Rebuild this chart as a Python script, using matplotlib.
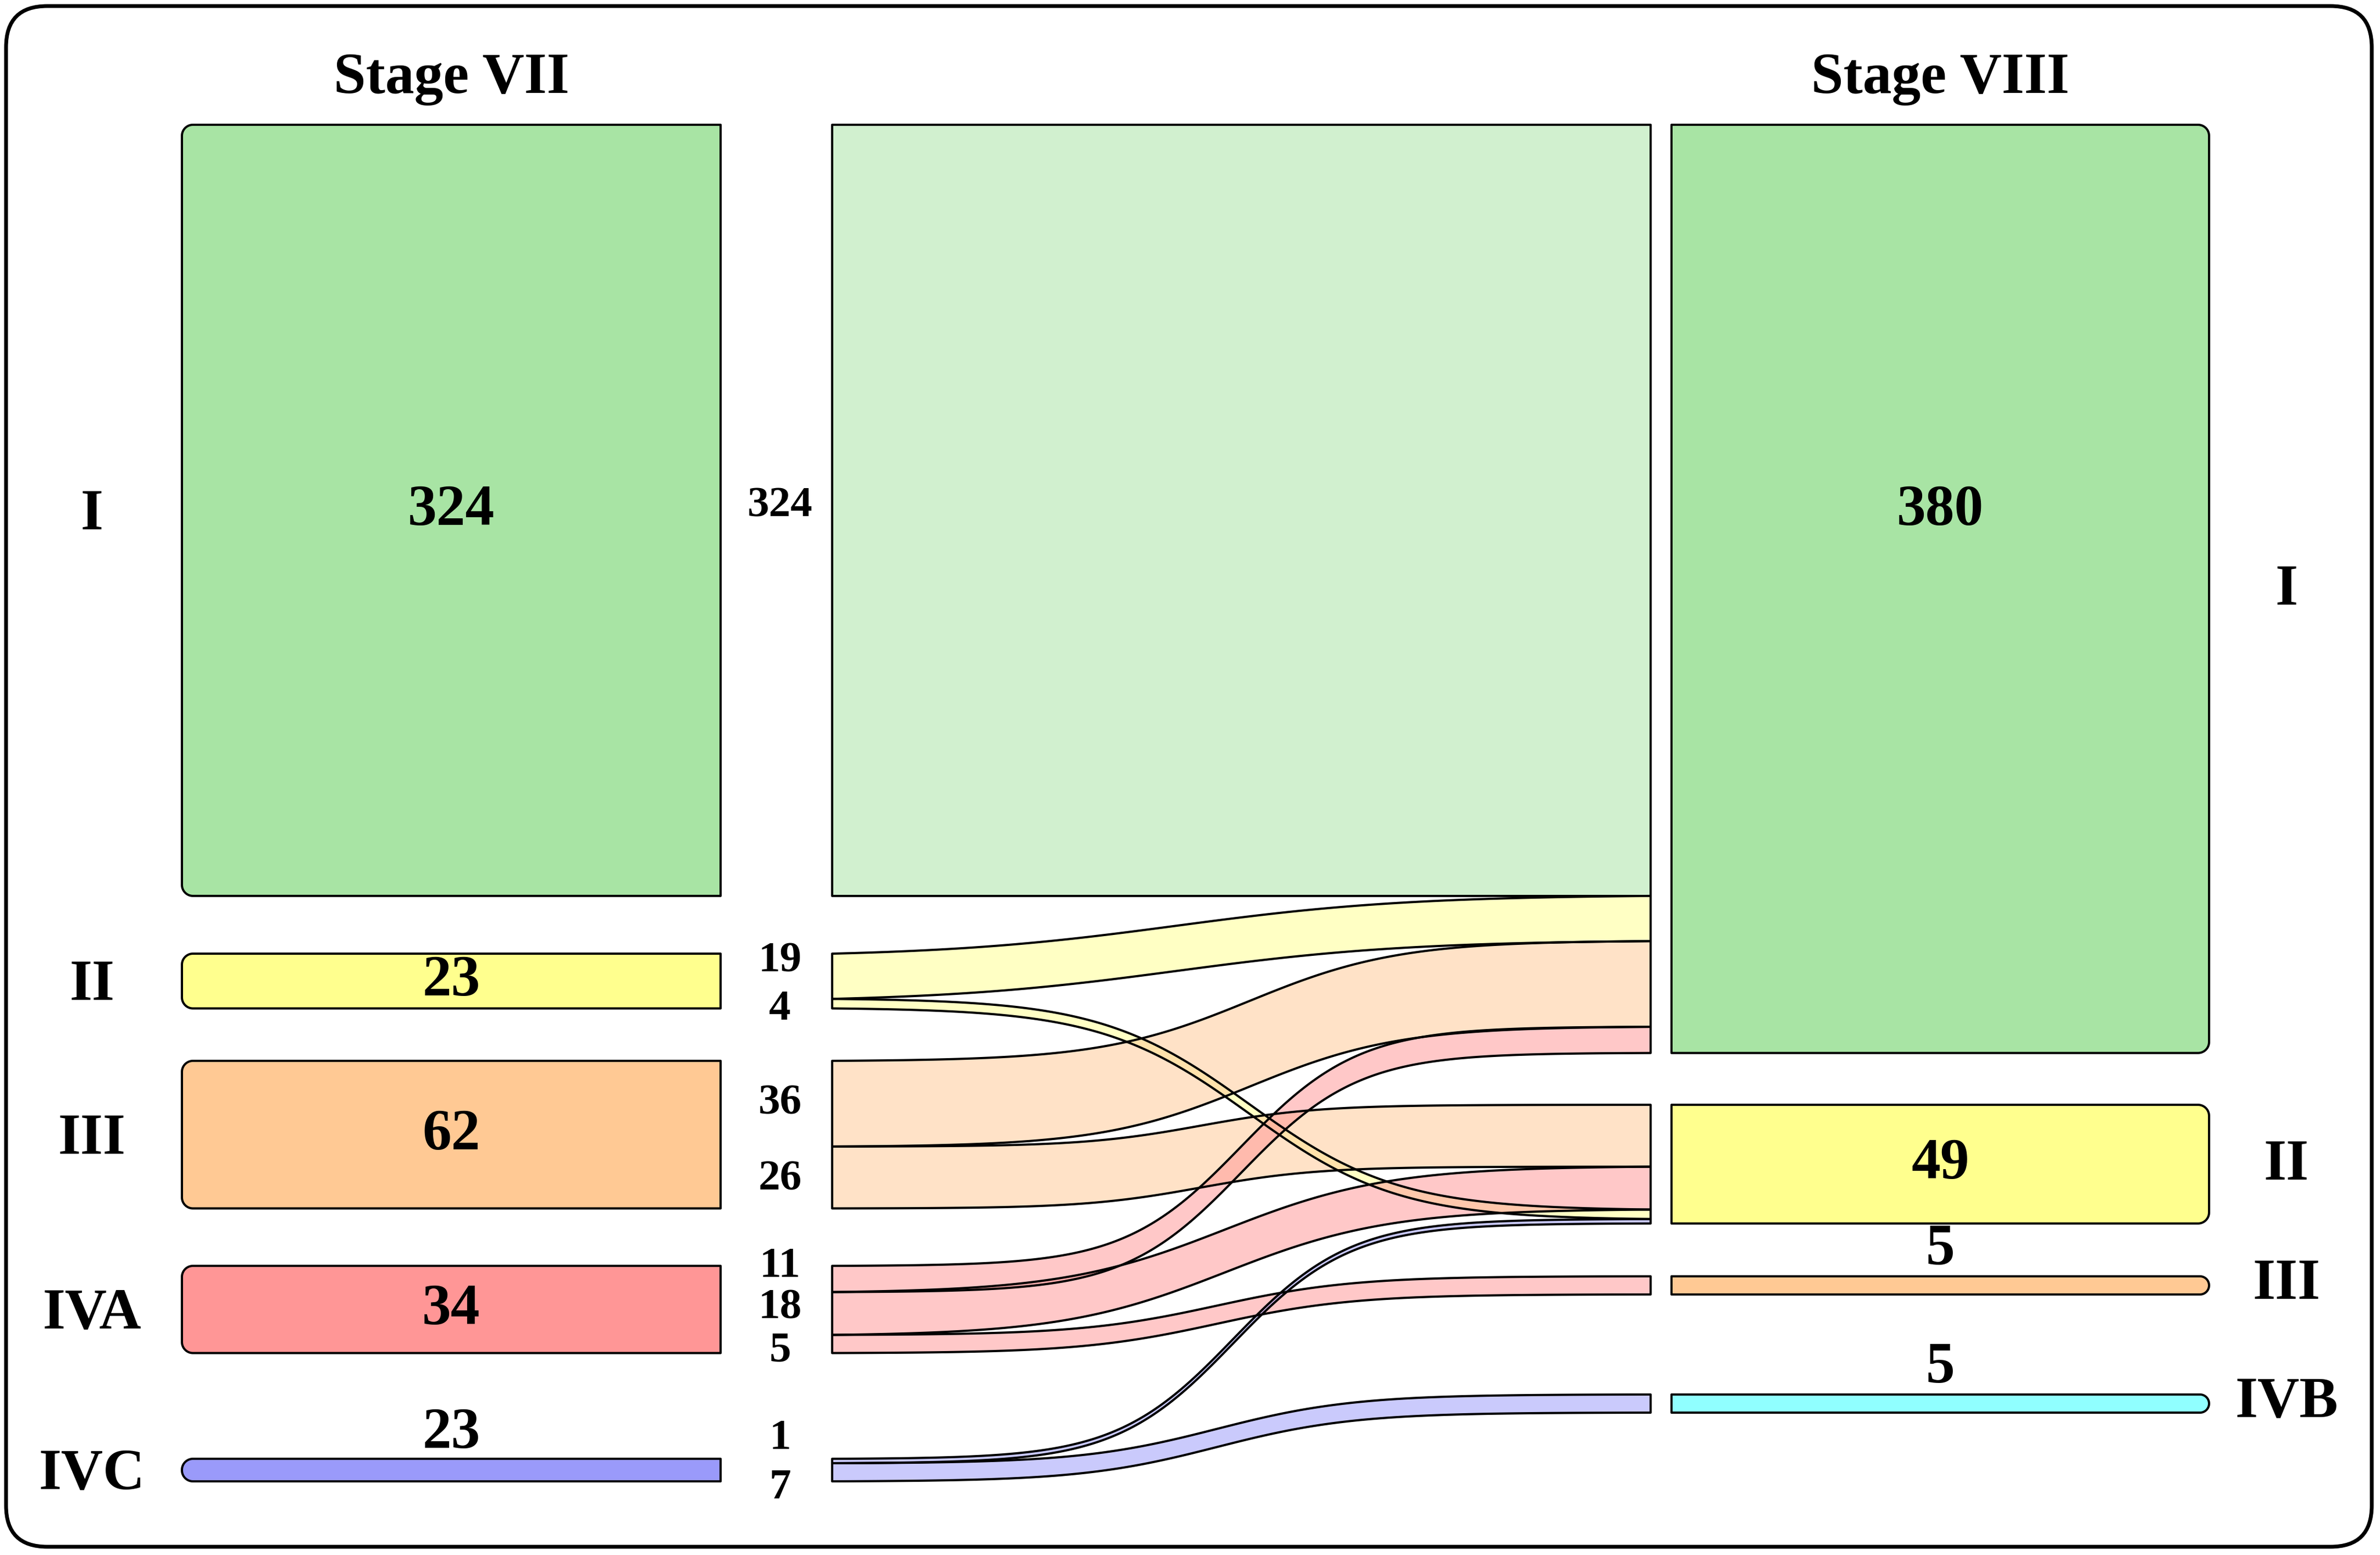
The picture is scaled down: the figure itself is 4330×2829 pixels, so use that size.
import numpy as np
import matplotlib
matplotlib.use("Agg")
import matplotlib.pyplot as plt
from matplotlib.patches import Polygon, FancyBboxPatch

# ---------------- data ----------------
col_titles = ["Stage VII", "Stage VIII"]
left_stages = ["I", "II", "III", "IVA", "IVC"]
left_totals = [324, 23, 62, 34, 23]
right_stages = ["I", "II", "III", "IVB"]
right_totals = [380, 49, 5, 5]
flow_src = ["I", "II", "II", "III", "III", "IVA", "IVA", "IVA", "IVC", "IVC"]
flow_dst = ["I", "I", "II", "I", "II", "I", "II", "III", "II", "IVB"]
flow_val = [324, 19, 4, 36, 26, 11, 18, 5, 1, 7]

# ---------------- styles / layout ----------------
stage_colors = {"I": "#A8E4A4", "II": "#FFFF8E", "III": "#FFC994",
                "IVA": "#FF9696", "IVC": "#9A9AFA", "IVB": "#90FFFF"}
FLOW_ALPHA = 0.52
W, H, DPI = 4330, 2829, 100
K = 4.33            # pixels per patient
MIN_FLOW = 8
SMALL_NODE = 33
LEFT_X = (331, 1311)
FLOW_X = (1514, 3003)
RIGHT_X = (3041, 4019)
LEFT_TOPS = [227, 1735, 1930, 2303, 2654]
RIGHT_TOPS = [227, 2010, 2322, 2537]
# order of incoming flows (indices) stacked in each right node
RIGHT_ORDER = {"I": [0, 1, 3, 5], "II": [4, 6, 2, 8], "III": [7], "IVB": [9]}
# per-flow curve steepness and centre
CURVE_K = [10, 7, 11, 11, 14, 14, 10, 12, 14, 12]
CURVE_C = [0.5, 0.42, 0.51, 0.51, 0.45, 0.50, 0.48, 0.47, 0.49, 0.47]
FLOW_LABEL_DY = [-15, -35, 3, -7, -4, -30, -17, 5, -48, 21]
FONT = ["Liberation Serif", "DejaVu Serif"]
BIG_FS, SMALL_FS = 76, 57
BIG_CAP, SMALL_CAP = 69, 52
LW = 2.9

fig = plt.figure(figsize=(W / DPI, H / DPI), dpi=DPI)
ax = fig.add_axes([0, 0, 1, 1])
ax.set_xlim(0, W)
ax.set_ylim(H, 0)
ax.axis("off")

# outer frame
frame = FancyBboxPatch((11, 11), W - 26, H - 26,
                       boxstyle="round,pad=0,rounding_size=75",
                       fc="white", ec="black", lw=5, zorder=0)
ax.add_patch(frame)

# ---------- flow thickness ----------
right_small = {s: right_totals[i] * K < SMALL_NODE for i, s in enumerate(right_stages)}
thick = []
for v, d in zip(flow_val, flow_dst):
    t = max(v * K, MIN_FLOW)
    if right_small[d]:
        t = SMALL_NODE
    thick.append(t)

# left ends
left_y0 = {}
left_nodes = {}
for i, s in enumerate(left_stages):
    y = LEFT_TOPS[i]
    top = y
    for j, src in enumerate(flow_src):
        if src == s:
            left_y0[j] = y
            y += thick[j]
    left_nodes[s] = (top, y)

# right ends
right_y0 = {}
right_nodes = {}
for i, s in enumerate(right_stages):
    y = RIGHT_TOPS[i]
    top = y
    for j in RIGHT_ORDER[s]:
        right_y0[j] = y
        y += thick[j]
    right_nodes[s] = (top, y)


def one_side_round(x0, x1, y0, y1, r, side):
    r = min(r, (y1 - y0) / 2)
    n = 20
    pts = []
    if side == "left":
        pts.append((x1, y0))
        a = np.linspace(-np.pi / 2, -np.pi, n)
        pts += list(zip(x0 + r + r * np.cos(a), y0 + r + r * np.sin(a)))
        a = np.linspace(np.pi, np.pi / 2, n)
        pts += list(zip(x0 + r + r * np.cos(a), y1 - r + r * np.sin(a)))
        pts.append((x1, y1))
    else:
        pts.append((x0, y0))
        a = np.linspace(-np.pi / 2, 0, n)
        pts += list(zip(x1 - r + r * np.cos(a), y0 + r + r * np.sin(a)))
        a = np.linspace(0, np.pi / 2, n)
        pts += list(zip(x1 - r + r * np.cos(a), y1 - r + r * np.sin(a)))
        pts.append((x0, y1))
    return np.array(pts)


def sig(z):
    return 1.0 / (1.0 + np.exp(-z))


# ---------- flows ----------
flow_polys = []
for j in range(len(flow_val)):
    xs = np.linspace(FLOW_X[0], FLOW_X[1], 300)
    t = (xs - FLOW_X[0]) / (FLOW_X[1] - FLOW_X[0])
    k, c = CURVE_K[j], CURVE_C[j]
    f = (sig(k * (t - c)) - sig(-k * c)) / (sig(k * (1 - c)) - sig(-k * c))
    ya, yb = left_y0[j], right_y0[j]
    top = ya + (yb - ya) * f
    bot = top + thick[j]
    pts = np.vstack([np.column_stack([xs, top]),
                     np.column_stack([xs[::-1], bot[::-1]])])
    flow_polys.append(pts)
    ax.add_patch(Polygon(pts, closed=True, fc=stage_colors[flow_src[j]],
                         alpha=FLOW_ALPHA, ec="none", zorder=2))
for pts in flow_polys:
    ax.add_patch(Polygon(pts, closed=True, fill=False, ec="black",
                         lw=LW, joinstyle="round", zorder=3))

# ---------- nodes ----------
for s, (y0, y1) in left_nodes.items():
    p = one_side_round(LEFT_X[0], LEFT_X[1], y0, y1, 20, "left")
    ax.add_patch(Polygon(p, closed=True, fc=stage_colors[s], ec="black",
                         lw=LW, joinstyle="round", zorder=4))
for s, (y0, y1) in right_nodes.items():
    p = one_side_round(RIGHT_X[0], RIGHT_X[1], y0, y1, 20, "right")
    ax.add_patch(Polygon(p, closed=True, fc=stage_colors[s], ec="black",
                         lw=LW, joinstyle="round", zorder=4))


def txt(x, yc, s, fs, cap, **kw):
    ax.text(x, yc + cap / 2, s, fontsize=fs, fontweight="bold",
            family=FONT, ha="center", va="baseline", zorder=6, **kw)


# titles
ax.text((LEFT_X[0] + LEFT_X[1]) / 2, 169, col_titles[0], fontsize=BIG_FS,
        fontweight="bold", family=FONT, ha="center", va="baseline")
ax.text((RIGHT_X[0] + RIGHT_X[1]) / 2, 169, col_titles[1], fontsize=BIG_FS,
        fontweight="bold", family=FONT, ha="center", va="baseline")

# node names and values
lx_c = (LEFT_X[0] + LEFT_X[1]) / 2
rx_c = (RIGHT_X[0] + RIGHT_X[1]) / 2
first_left_label = None
for i, s in enumerate(left_stages):
    y0, y1 = left_nodes[s]
    yc = (y0 + y1) / 2
    txt(167, yc, s, BIG_FS, BIG_CAP)
    if y1 - y0 > 60:
        yl = yc - 8
        txt(lx_c, yl, str(left_totals[i]), BIG_FS, BIG_CAP)
        if first_left_label is None:
            first_left_label = yl
    else:
        ax.text(lx_c, y0 - 20, str(left_totals[i]), fontsize=BIG_FS,
                fontweight="bold", family=FONT, ha="center", va="baseline")
for i, s in enumerate(right_stages):
    y0, y1 = right_nodes[s]
    yc = (y0 + y1) / 2
    if y1 - y0 > 60:
        txt(4160, yc - 6, s, BIG_FS, BIG_CAP)
        yl = first_left_label if i == 0 else yc - 8
        txt(rx_c, yl, str(right_totals[i]), BIG_FS, BIG_CAP)
    else:
        txt(4160, yc - 10, s, BIG_FS, BIG_CAP)
        ax.text(rx_c, y0 - 22, str(right_totals[i]), fontsize=BIG_FS,
                fontweight="bold", family=FONT, ha="center", va="baseline")

# flow labels
for j, v in enumerate(flow_val):
    yc = left_y0[j] + thick[j] / 2 + FLOW_LABEL_DY[j]
    txt(1419, yc, str(v), SMALL_FS, SMALL_CAP)

fig.savefig("out.png", dpi=DPI, facecolor="white")
